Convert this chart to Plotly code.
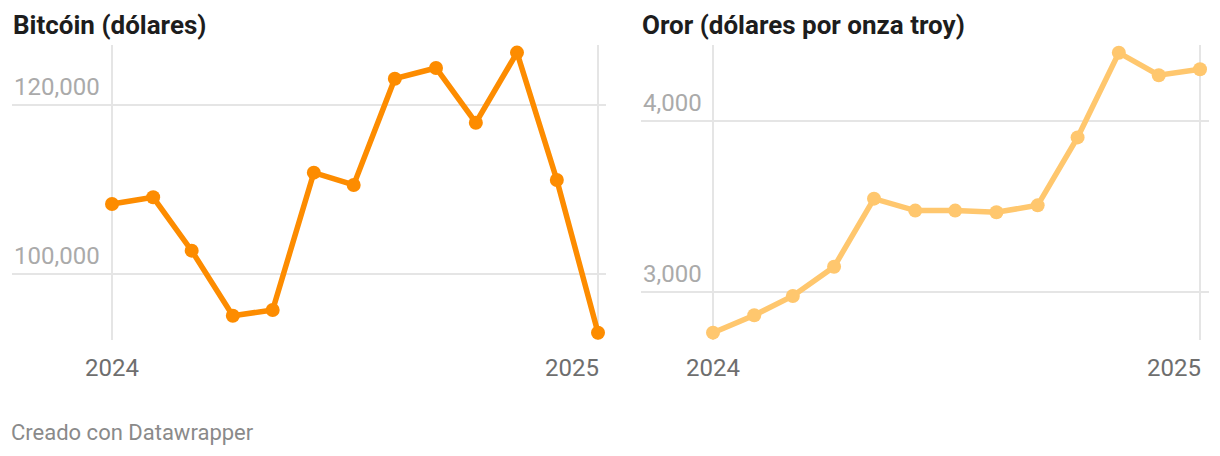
import pandas as pd
import plotly.graph_objects as go

# ---- data ----
dates = pd.date_range("2024-01-01", "2025-01-01", freq="MS")
bitcoin = [108260, 109060, 102730, 95020, 95700, 111980, 110520,
           123120, 124390, 117900, 126210, 111110, 93000]
gold = [2760, 2862, 2975, 3146, 3545, 3475, 3475, 3465, 3506,
        3904, 4400, 4268, 4303]
btc_ticks = [100000, 120000]
gold_ticks = [3000, 4000]
x_tick_dates = ["2024-01-01", "2025-01-01"]
x_tick_labels = ["2024", "2025"]
titles = ["Bitcóin (dólares)", "Oror (dólares por onza troy)"]
footer = "Creado con Datawrapper"

PAGE_OFF = 8  # default body margin of the html page
W, H = 1220 - PAGE_OFF, 456 - PAGE_OFF
FONT = "Roboto"
ORANGE = "#fd8c00"
GOLD = "#ffc76e"
GRID = "#e5e5e5"

def px_x(p):
    return (p - PAGE_OFF) / W

def px_y(p):
    return 1 - (p - PAGE_OFF) / H

def date_range(px_left, px_right, px_2024, px_2025):
    d0 = pd.Timestamp("2024-01-01")
    d1 = pd.Timestamp("2025-01-01")
    per_px = (d1 - d0) / (px_2025 - px_2024)
    return [d0 - per_px * (px_2024 - px_left), d1 + per_px * (px_right - px_2025)]

def val_range(px_top, px_bottom, v_lo, px_lo, v_hi, px_hi):
    per_px = (v_hi - v_lo) / (px_lo - px_hi)
    return [v_lo - per_px * (px_bottom - px_lo), v_hi + per_px * (px_hi - px_top)]

fig = go.Figure()
fig.add_trace(go.Scatter(x=dates, y=bitcoin, mode="lines+markers",
                         line=dict(color=ORANGE, width=5.5),
                         marker=dict(color=ORANGE, size=14),
                         xaxis="x", yaxis="y", hoverinfo="x+y"))
fig.add_trace(go.Scatter(x=dates, y=gold, mode="lines+markers",
                         line=dict(color=GOLD, width=5.5),
                         marker=dict(color=GOLD, size=14),
                         xaxis="x2", yaxis="y2", hoverinfo="x+y"))

PT, PB = 45, 340
panels = [
    dict(left=12, right=606, p24=112, p25=598, ticks=btc_ticks,
         ref=(100000, 273.7, 120000, 105)),
    dict(left=641, right=1209, p24=713, p25=1200, ticks=gold_ticks,
         ref=(3000, 291.7, 4000, 121)),
]

annotations = []
for i, p in enumerate(panels):
    sx = "" if i == 0 else str(i + 1)
    xr = date_range(p["left"], p["right"], p["p24"], p["p25"])
    v_lo, px_lo, v_hi, px_hi = p["ref"]
    yr = val_range(PT, PB, v_lo, px_lo, v_hi, px_hi)
    fig.update_layout(**{
        "xaxis" + sx: dict(domain=[px_x(p["left"]), px_x(p["right"])],
                           range=xr, type="date", anchor="y" + sx,
                           tickvals=x_tick_dates, showticklabels=False,
                           showgrid=True, gridcolor=GRID, gridwidth=2,
                           zeroline=False, showline=False, fixedrange=True),
        "yaxis" + sx: dict(domain=[px_y(PB), px_y(PT)], range=yr,
                           anchor="x" + sx, tickvals=p["ticks"],
                           showticklabels=False, showgrid=True,
                           gridcolor=GRID, gridwidth=2, zeroline=False,
                           showline=False, fixedrange=True),
    })
    for v in p["ticks"]:
        annotations.append(dict(x=px_x(p["left"]), xref="paper", y=v,
                                yref="y" + sx, text=f"{v:,}",
                                xanchor="left", yanchor="bottom", yshift=2,
                                showarrow=False,
                                font=dict(family=FONT, size=24, color="#aaaaaa")))
    for j, (d, t) in enumerate(zip(x_tick_dates, x_tick_labels)):
        last = j == len(x_tick_dates) - 1
        annotations.append(dict(x=d, xref="x" + sx, y=px_y(352), yref="paper",
                                text=t, xanchor="right" if last else "center",
                                xshift=3 if last else 0,
                                yanchor="top", showarrow=False,
                                font=dict(family=FONT, size=24, color="#6e6e6e")))
    annotations.append(dict(x=px_x(p["left"] - 1), xref="paper", y=px_y(25),
                            yref="paper", text=f"<b>{titles[i]}</b>",
                            xanchor="left", yanchor="middle", showarrow=False,
                            font=dict(family=FONT, size=26, color="#1d1d1d")))

annotations.append(dict(x=px_x(9), xref="paper", y=px_y(432), yref="paper",
                        text=footer, xanchor="left", yanchor="middle",
                        showarrow=False,
                        font=dict(family=FONT, size=22, color="#8a8a8a")))

fig.update_layout(width=W, height=H, margin=dict(l=0, r=0, t=0, b=0),
                  paper_bgcolor="white", plot_bgcolor="white",
                  showlegend=False, annotations=annotations,
                  font=dict(family=FONT))

fig.write_html("out.html", config={"displayModeBar": False})
